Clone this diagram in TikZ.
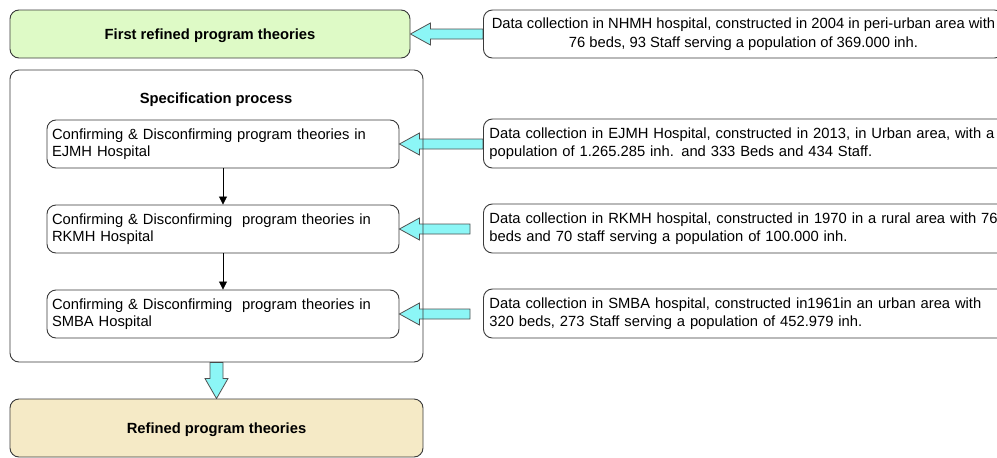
\documentclass[tikz,border=0pt]{standalone}
\usepackage{fontspec}
\setmainfont{Liberation Sans}
\usetikzlibrary{calc,arrows.meta,backgrounds}
\definecolor{boxline}{HTML}{3A3A3A}
\definecolor{greenfill}{HTML}{DEFAC6}
\definecolor{beigefill}{HTML}{F5EAC6}
\definecolor{cyanfill}{HTML}{8CF6F6}
\definecolor{arrowline}{HTML}{505050}
\newcommand{\hfat}[2]{\draw[fat] let \p1=(#1), \p2=(#2) in (\x2,\y2) -- ++(20pt,11pt) -- ++(0pt,-6pt) -- (\x1,\y2+5pt) -- (\x1,\y2-5pt) -- (\x2+20pt,\y2-5pt) -- ++(0pt,-6pt) -- cycle;}
\newcommand{\vfat}[2]{\draw[fat] let \p1=(#1), \p2=(#2) in (\x2,\y2) -- ++(11.5pt,20pt) -- ++(-5pt,0pt) -- (\x2+6.5pt,\y1) -- (\x2-6.5pt,\y1) -- (\x2-6.5pt,\y2+20pt) -- ++(-5pt,0pt) -- cycle;}
\begin{document}
\begin{tikzpicture}[x=1pt,y=1pt,
  box/.style={draw=boxline, line width=0.9pt, rounded corners=9pt, inner sep=0pt},
  txt/.style={font=\fontsize{14.75}{17.5}\selectfont},
  bold/.style={font=\fontsize{14.75}{17}\selectfont\bfseries, text depth=0pt},
  fat/.style={draw=arrowline, fill=cyanfill, line width=0.8pt, line join=miter},
  thin/.style={draw=black, line width=0.8pt, -{Triangle[length=8pt,width=8pt]}}]
\useasboundingbox (0,0) rectangle (997,-458);
\clip (0,0) rectangle (997,-458);
% top row
\node[box, bold, fill=greenfill, minimum width=400pt, minimum height=48pt] (f1) at (210,-34) {First refined program theories};
\node[box, font=\fontsize{14.75}{19.5}\selectfont, anchor=west, minimum width=520pt, minimum height=48pt, align=center] (d0) at (483,-34)
  {Data collection in NHMH hospital, constructed in 2004 in peri-urban area with\\76 beds, 93 Staff serving a population of 369.000 inh.};
% specification
\node[box, minimum width=413pt, minimum height=292pt] (spec) at (216.5,-216) {};
\node[bold] (st) at (216,-98) {Specification process};
\node[box, txt, minimum height=48pt, text width=342pt, inner xsep=5pt, align=left] (e1) at (223,-144)
  {Confirming \& Disconfirming program theories in\\EJMH Hospital};
\node[box, txt, minimum height=48pt, text width=342pt, inner xsep=5pt, align=left] (e2) at (223,-229)
  {Confirming \& Disconfirming\ \ program theories in\\RKMH Hospital};
\node[box, txt, minimum height=48pt, text width=342pt, inner xsep=5pt, align=left] (e3) at (223,-314)
  {Confirming \& Disconfirming\ \ program theories in\\SMBA Hospital};
\draw[thin] (e1) -- (e2);
\draw[thin] (e2) -- (e3);
% data boxes
\node[box, txt, anchor=west, minimum height=49pt, text width=520pt, inner xsep=6pt, align=left] (d1) at (483,-143.5)
  {Data collection in EJMH Hospital, constructed in 2013, in Urban area, with a\\population of 1.265.285 inh. and 333 Beds and 434 Staff.};
\node[box, txt, anchor=west, minimum height=49pt, text width=520pt, inner xsep=6pt, align=left] (d2) at (483,-228.5)
  {Data collection in RKMH hospital, constructed in 1970 in a rural area with 76\\beds and 70 staff serving a population of 100.000 inh.};
\node[box, txt, anchor=west, minimum height=49pt, text width=520pt, inner xsep=6pt, align=left] (d3) at (483,-313.5)
  {Data collection in SMBA hospital, constructed in1961in an urban area with\\320 beds, 273 Staff serving a population of 452.979 inh.};
\coordinate (t2) at ($(d2.west)+(-13pt,0pt)$);
\coordinate (t3) at ($(d3.west)+(-13pt,0pt)$);
% bottom
\node[box, bold, fill=beigefill, minimum width=413pt, minimum height=58pt] (r) at (216.5,-428) {Refined program theories};
\begin{scope}[on background layer]
\hfat{d0.west}{f1.east}
\hfat{d1.west}{e1.east}
\hfat{t2}{e2.east}
\hfat{t3}{e3.east}
\vfat{spec.south}{r.north}
\end{scope}
\end{tikzpicture}
\end{document}
